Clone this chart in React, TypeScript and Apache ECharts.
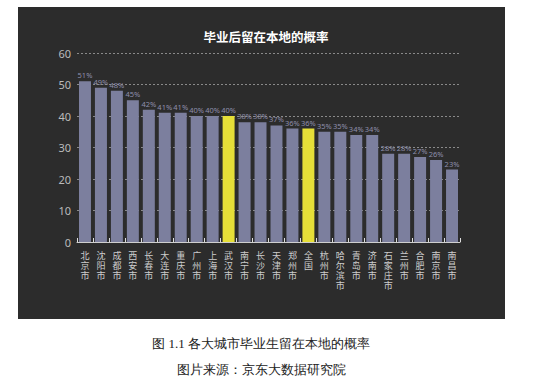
import React, { useEffect, useRef } from "react";
import * as echarts from "echarts";

const cities = [
  "北京市", "沈阳市", "成都市", "西安市", "长春市", "大连市", "重庆市", "广州市",
  "上海市", "武汉市", "南宁市", "长沙市", "天津市", "郑州市", "全国", "杭州市",
  "哈尔滨市", "青岛市", "济南市", "石家庄市", "兰州市", "合肥市", "南京市", "南昌市",
];
const values = [51, 49, 48, 45, 42, 41, 41, 40, 40, 40, 38, 38, 37, 36, 36, 35, 35, 34, 34, 28, 28, 27, 26, 23];
const highlighted = ["武汉市", "全国"];
const yTicks = { min: 0, max: 60, interval: 10 };
const titleText = "毕业后留在本地的概率";
const captionText = "图 1.1 各大城市毕业生留在本地的概率";
const sourceText = "图片来源：京东大数据研究院";

export default function App() {
  const ref = useRef<HTMLDivElement>(null);
  useEffect(() => {
    if (!ref.current) return;
    const chart = echarts.init(ref.current, null, { renderer: "svg" });
    chart.setOption({
      animation: false,
      backgroundColor: "#ffffff",
      title: {
        text: titleText,
        left: 261,
        textAlign: "center",
        top: 25,
        textStyle: { color: "#ffffff", fontSize: 12.5, fontWeight: "bold", fontFamily: "Noto Sans CJK SC" },
      },
      graphic: [
        {
          type: "rect",
          z: -10,
          shape: { x: 18, y: 7, width: 487, height: 312 },
          style: { fill: "#2c2c2c" },
          silent: true,
        },
        {
          type: "text",
          x: 261,
          y: 343,
          style: {
            text: captionText,
            fill: "#222",
            fontSize: 13,
            fontFamily: "serif",
            align: "center",
            verticalAlign: "middle",
          },
        },
        {
          type: "text",
          x: 261,
          y: 369,
          style: {
            text: sourceText,
            fill: "#222",
            fontSize: 13,
            fontFamily: "serif",
            align: "center",
            verticalAlign: "middle",
          },
        },
      ],
      grid: { left: 77, right: 73, top: 53, bottom: 135, containLabel: false },
      xAxis: {
        type: "category",
        data: cities,
        axisLine: { lineStyle: { color: "#cfcfcf", width: 1 } },
        axisTick: { show: true, inside: true, length: 4, lineStyle: { color: "#dddddd" } },
        axisLabel: {
          interval: 0,
          color: "#cccccc",
          fontSize: 9,
          lineHeight: 10,
          margin: 8,
          fontFamily: "Noto Sans CJK SC",
          formatter: (v: string) => v.split("").join("\n"),
        },
      },
      yAxis: {
        type: "value",
        min: yTicks.min,
        max: yTicks.max,
        interval: yTicks.interval,
        axisLine: { show: false },
        axisTick: { show: false },
        axisLabel: { color: "#bbbbbb", fontSize: 11, margin: 6, fontFamily: "Noto Sans" },
        splitLine: { lineStyle: { color: "#8a8a8a", type: [2, 2], width: 1 } },
      },
      series: [
        {
          type: "bar",
          barWidth: "75%",
          data: values.map((v, i) => ({
            value: v,
            itemStyle: { color: highlighted.includes(cities[i]) ? "#e6df38" : "#7c7f9e" },
          })),
          label: {
            show: true,
            position: "top",
            distance: 2,
            color: "#8e8eab",
            fontSize: 7.5,
            fontFamily: "Noto Sans",
            formatter: "{c}%",
          },
        },
      ],
    });
    return () => chart.dispose();
  }, []);
  return (
    <div
      ref={ref}
      style={{ position: "absolute", left: 0, top: 0, width: 533, height: 377 }}
    />
  );
}
